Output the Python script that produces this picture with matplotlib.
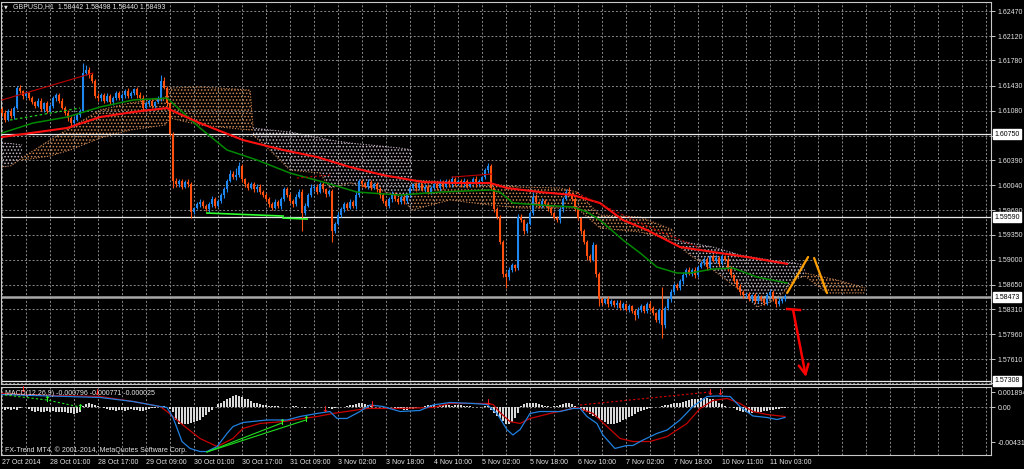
import numpy as np
import matplotlib
matplotlib.use('Agg')
import matplotlib.pyplot as plt
from matplotlib.transforms import blended_transform_factory

plt.rcParams['font.family'] = ['Liberation Sans', 'DejaVu Sans']
plt.rcParams['hatch.linewidth'] = 0.7

# ---------------- data ----------------
first_open = 1.6110
closes = [
    1.6105, 1.6095, 1.6108, 1.6100, 1.6112, 1.6140, 1.6135, 1.6128, 1.6132, 1.6125,
    1.6120, 1.6115, 1.6122, 1.6110, 1.6118, 1.6108, 1.6115, 1.6125, 1.6130, 1.6122,
    1.6112, 1.6105, 1.6098, 1.6090, 1.6095, 1.6102, 1.6108, 1.6160, 1.6165, 1.6158,
    1.6150, 1.6128, 1.6125, 1.6130, 1.6122, 1.6128, 1.6120, 1.6126, 1.6132, 1.6125,
    1.6130, 1.6135, 1.6128, 1.6133, 1.6138, 1.6130, 1.6125, 1.6112, 1.6118, 1.6122,
    1.6115, 1.6120, 1.6125, 1.6150, 1.6140, 1.6118, 1.6075, 1.6010, 1.6005, 1.6010,
    1.6002, 1.6008, 1.6005, 1.5966, 1.5972, 1.5978, 1.5980, 1.5975, 1.5970, 1.5978,
    1.5985, 1.5975, 1.5982, 1.5990, 1.5998, 1.6010, 1.6020, 1.6015, 1.6018, 1.6030,
    1.6012, 1.6005, 1.6000, 1.6006, 1.5998, 1.6002, 1.5995, 1.5990, 1.5985, 1.5978,
    1.5972, 1.5980, 1.5975, 1.5985, 1.5998, 1.5990, 1.5982, 1.5978, 1.5988, 1.5995,
    1.5965, 1.5975, 1.5990, 1.6000, 1.6002, 1.5995, 1.6005, 1.5998, 1.5992, 1.5996,
    1.5940, 1.5950, 1.5962, 1.5970, 1.5978, 1.5972, 1.5980, 1.5975, 1.5990, 1.6010,
    1.6005, 1.6002, 1.6008, 1.6000, 1.6005, 1.5998, 1.5990, 1.5982, 1.5975, 1.5985,
    1.5992, 1.5985, 1.5980, 1.5988, 1.5982, 1.5990, 1.6000, 1.6005, 1.6000, 1.6005,
    1.5998, 1.6002, 1.5995, 1.6000, 1.6006, 1.6000, 1.6008, 1.6002, 1.6010, 1.6005,
    1.6012, 1.6006, 1.6010, 1.6005, 1.6010, 1.6003, 1.6008, 1.6012, 1.6006, 1.6010,
    1.6015, 1.6025, 1.6030, 1.6000, 1.5970, 1.5960, 1.5925, 1.5880, 1.5875, 1.5885,
    1.5892, 1.5888, 1.5960, 1.5955, 1.5940, 1.5950, 1.5965, 1.5988, 1.5980, 1.5975,
    1.5982, 1.5978, 1.5972, 1.5965, 1.5958, 1.5955, 1.5970, 1.5985, 1.5995, 1.5992,
    1.5985, 1.5970, 1.5958, 1.5940, 1.5925, 1.5905, 1.5900, 1.5920, 1.5880, 1.5845,
    1.5840, 1.5845, 1.5838, 1.5842, 1.5836, 1.5840, 1.5833, 1.5838, 1.5830, 1.5835,
    1.5828, 1.5822, 1.5830, 1.5835, 1.5828, 1.5838, 1.5832, 1.5825, 1.5815, 1.5830,
    1.5808, 1.5832, 1.5845, 1.5855, 1.5865, 1.5860, 1.5870, 1.5878, 1.5885, 1.5880,
    1.5885, 1.5878, 1.5890, 1.5895, 1.5900, 1.5890, 1.5905, 1.5898, 1.5902, 1.5895,
    1.5905, 1.5900, 1.5888, 1.5878, 1.5870, 1.5862, 1.5855, 1.5850, 1.5852, 1.5845,
    1.5850, 1.5842, 1.5848, 1.5845, 1.5840, 1.5850, 1.5855, 1.5845, 1.5838, 1.5842,
    1.5845, 1.58493]

# wick lengths in pips (0.0001)
wick_up_pips = [
    3, 4, 2, 3, 2, 3, 4, 2, 3, 2,   3, 2, 4, 3, 2, 3, 2, 4, 3, 2,
    3, 2, 4, 3, 5, 3, 2, 15, 7, 4,  3, 2, 4, 3, 2, 4, 3, 2, 3, 4,
    2, 3, 4, 3, 2, 3, 4, 5, 3, 2,   3, 2, 4, 8, 5, 3, 2, 3, 4, 3,
    2, 3, 4, 3, 2, 3, 4, 3, 2, 3,   4, 3, 2, 3, 4, 3, 5, 3, 10, 6,
    3, 2, 4, 3, 2, 3, 4, 2, 3, 3,   2, 4, 3, 2, 3, 4, 3, 2, 3, 4,
    3, 4, 3, 5, 2, 3, 4, 3, 2, 3,   3, 2, 4, 3, 2, 3, 4, 3, 6, 3,
    2, 3, 4, 3, 2, 3, 4, 3, 2, 3,   4, 3, 2, 3, 4, 3, 3, 2, 4, 3,
    2, 3, 4, 3, 2, 3, 4, 3, 2, 3,   4, 3, 2, 3, 4, 3, 2, 3, 4, 3,
    2, 3, 5, 3, 2, 3, 2, 3, 2, 4,   3, 2, 4, 3, 2, 3, 3, 7, 3, 2,
    4, 3, 2, 3, 2, 3, 3, 2, 3, 6,   3, 2, 3, 2, 3, 2, 3, 4, 2, 3,
    3, 2, 4, 3, 2, 3, 4, 3, 2, 3,   2, 3, 4, 3, 2, 3, 4, 3, 2, 3,
    32, 3, 2, 4, 3, 2, 3, 4, 3, 5,  3, 4, 2, 3, 4, 3, 2, 3, 4, 3,
    3, 2, 4, 3, 2, 3, 4, 3, 2, 3,   2, 3, 4, 3, 2, 3, 4, 3, 2, 6,
    3, 2]
wick_dn_pips = [
    4, 3, 2, 3, 4, 2, 3, 4, 3, 2,   3, 4, 2, 3, 4, 3, 2, 3, 4, 3,
    2, 3, 4, 5, 3, 2, 3, 2, 3, 4,   3, 2, 3, 4, 3, 2, 3, 4, 3, 2,
    3, 4, 3, 2, 3, 4, 3, 3, 2, 3,   4, 3, 2, 3, 2, 3, 3, 10, 3, 4,
    3, 2, 3, 8, 3, 2, 4, 3, 2, 3,   4, 3, 2, 3, 4, 3, 2, 3, 4, 3,
    3, 4, 3, 2, 3, 4, 3, 2, 3, 4,   3, 2, 3, 4, 3, 2, 3, 4, 3, 2,
    25, 3, 2, 3, 4, 3, 2, 3, 4, 3,  15, 3, 2, 3, 4, 3, 2, 3, 4, 3,
    3, 2, 4, 3, 2, 3, 4, 3, 2, 3,   4, 3, 2, 3, 4, 3, 2, 3, 4, 3,
    2, 3, 4, 3, 2, 3, 4, 3, 2, 3,   4, 3, 2, 3, 4, 3, 2, 3, 4, 3,
    2, 3, 4, 3, 3, 4, 3, 4, 15, 3,  3, 4, 2, 3, 4, 3, 2, 3, 4, 3,
    3, 2, 4, 3, 2, 3, 4, 3, 2, 3,   3, 2, 3, 4, 3, 5, 3, 2, 4, 10,
    3, 2, 4, 3, 2, 3, 4, 3, 2, 3,   3, 7, 4, 3, 2, 3, 4, 3, 2, 3,
    18, 3, 2, 4, 3, 2, 3, 4, 3, 2,  3, 4, 3, 2, 3, 4, 3, 2, 3, 4,
    3, 2, 4, 3, 2, 3, 4, 3, 2, 3,   4, 3, 2, 3, 4, 3, 2, 3, 4, 3,
    2, 3]

# moving averages (bar index, price)
red_ma_x = [0, 21.7, 32.7, 43.7, 55, 57.7, 66, 80.3, 93.7, 105, 116, 127, 140.3, 151.7,
            162.7, 168.3, 179.3, 190.3, 199.3, 207, 215, 226, 237, 248.3, 261.7]
red_ma_y = [1.60711, 1.60837, 1.6099, 1.6106, 1.61116, 1.6106, 1.60906, 1.60669, 1.6053,
            1.60432, 1.60292, 1.6018, 1.60083, 1.60069, 1.60069, 1.59999, 1.59943, 1.59901,
            1.5979, 1.59552, 1.59413, 1.59175, 1.59106, 1.59036, 1.5894]
green_ma_x = [0, 10.3, 21.7, 32.7, 43.7, 55, 66, 75, 85, 96, 107, 118.3, 132.7, 146, 162.7,
              166, 170.3, 179.3, 190.3, 195, 199.3, 207, 212.7, 218.3, 225, 229.3, 237,
              243.7, 251.7, 261.7]
green_ma_y = [1.60767, 1.60906, 1.6099, 1.6113, 1.61228, 1.61255, 1.60837, 1.6053, 1.6039,
              1.60208, 1.60083, 1.59943, 1.59901, 1.59943, 1.59971, 1.59943, 1.5979, 1.59762,
              1.59734, 1.59664, 1.59552, 1.59273, 1.59092, 1.58896, 1.58812, 1.58812, 1.58868,
              1.58882, 1.58756, 1.58673]

# Ichimoku cloud segments (bar index, upper, lower)
cloud1_x = [0, 3, 6.7]
cloud1_top = [1.60627, 1.6062, 1.60599]
cloud1_bot = [1.60292, 1.6031, 1.60418]
cloud2_x = [6.7, 16, 22.7, 32.7, 42.7, 54.3, 56, 66, 82.7, 83.7]
cloud2_top = [1.60418, 1.60669, 1.60837, 1.61088, 1.61186, 1.61255, 1.61395, 1.61409, 1.61367, 1.60837]
cloud2_bot = [1.6039, 1.60446, 1.6053, 1.60697, 1.60809, 1.60878, 1.60976, 1.60878, 1.60809, 1.60809]
cloud3_x = [83.7, 89.3, 96, 106, 109.3, 116, 126, 132.7, 136.7]
cloud3_top = [1.60837, 1.60809, 1.60781, 1.60697, 1.60669, 1.60627, 1.60585, 1.60557, 1.6053]
cloud3_bot = [1.60739, 1.6053, 1.6025, 1.60208, 1.59999, 1.60069, 1.59971, 1.59873, 1.59692]
cloud4_x = [136.7, 149.3, 162.7, 172.7, 186, 191.7]
cloud4_top = [1.60111, 1.60083, 1.60055, 1.60013, 1.59999, 1.59943]
cloud4_bot = [1.59692, 1.59832, 1.59762, 1.5972, 1.5972, 1.5972]
cloud5_x = [191.7, 199.3, 212.7, 223.7]
cloud5_top = [1.59943, 1.59622, 1.59594, 1.59413]
cloud5_bot = [1.5972, 1.5944, 1.59385, 1.59273]
cloud6_x = [224.3, 229.3, 237, 246, 251.7, 256, 260.3, 263.7, 267.7]
cloud6_top = [1.59273, 1.59231, 1.59175, 1.59064, 1.59022, 1.58994, 1.58966, 1.58952, 1.58924]
cloud6_bot = [1.59231, 1.59064, 1.58854, 1.58575, 1.58338, 1.58408, 1.58533, 1.58715, 1.5877]
cloud7_x = [267.7, 275, 278.3, 287.7]
cloud7_top = [1.58812, 1.58745, 1.58715, 1.58603]
cloud7_bot = [1.5877, 1.58533, 1.58533, 1.58533]

# drawn objects on the price chart
darkred_line_x = [0, 30.3]
darkred_line_y = [1.61228, 1.61604]
red_box_line_x = [150, 163.3]
red_box_line_y = [1.60152, 1.60194]
red_dot_line_x = [191.7, 212.7, 232.7]
red_dot_line_y = [1.59929, 1.5951, 1.59161]
red_dot_line2_x = [98.3, 109.3]
red_dot_line2_y = [1.60138, 1.6018]
green_dot_line_x = [2.7, 26]
green_dot_line_y = [1.60948, 1.61116]
lime_line1_x = [68.3, 93.7]
lime_line1_y = [1.5965, 1.59608]
lime_line2_x = [93.7, 101.7]
lime_line2_y = [1.5958, 1.59566]
orange_zz_x = [261.7, 268.7]
orange_zz_y = [1.58533, 1.59036]
orange_zz2_x = [270.7, 275]
orange_zz2_y = [1.59022, 1.58533]
red_bar_x = [261.7, 266]
red_bar_y = [1.58310, 1.58296]
red_arrow_start = (263.7, 1.58296)
red_arrow_end = (268.0, 1.5736)

price_ticks = [1.62470, 1.62120, 1.61780, 1.61430, 1.61080, 1.60730, 1.60390, 1.60040,
               1.59690, 1.59350, 1.59000, 1.58650, 1.58310, 1.57960, 1.57610, 1.57270]
hidden_price_labels = [1.60730]
hlines_white = [1.60750, 1.59590, 1.57308]
bid_price = 1.58473
time_labels = ['27 Oct 2014', '28 Oct 01:00', '28 Oct 17:00', '29 Oct 09:00', '30 Oct 01:00',
               '30 Oct 17:00', '31 Oct 09:00', '3 Nov 02:00', '3 Nov 18:00', '4 Nov 10:00',
               '5 Nov 02:00', '5 Nov 18:00', '6 Nov 10:00', '7 Nov 02:00', '7 Nov 18:00',
               '10 Nov 11:00', '11 Nov 03:00']
time_label_bars = [0, 16, 32, 48, 64, 80, 96, 112, 128, 144, 160, 176, 192, 208, 224, 240, 256]

# MACD histogram (units of 0.001)
macd_hist_e3 = [
    -0.2, -0.3, -0.2, -0.3, -0.2, -0.3, -0.1, 0.1, 0.0, -0.2,
    -0.4, -0.5, -0.4, -0.5, -0.5, -0.4, -0.5, -0.4, -0.5, -0.6, -0.5, -0.6, -0.7,
    -0.7, -0.8, -0.7, -0.5,
    0.2, 0.4, 0.5, 0.4, 0.3, 0.2, 0.1,
    -0.1, -0.2, -0.3, -0.3, -0.4, -0.3, -0.3, -0.4, -0.3, -0.2, -0.3, -0.3, -0.4, -0.4, -0.3,
    -0.2, -0.1, -0.1, 0.0,
    0.1, 0.2, 0.1, -0.2,
    -0.6, -1.6, -2.1, -2.1, -2.1, -2.0, -1.9, -1.8, -1.7, -1.5, -1.2, -0.9, -0.6, -0.3,
    0.1, 0.4, 0.6, 0.8, 1.0, 1.2, 1.4, 1.5, 1.4, 1.3, 1.1, 1.0, 0.8, 0.6, 0.5, 0.4, 0.3,
    0.3, 0.2, 0.2, 0.2, 0.2, 0.1, 0.1, 0.1, 0.1,
    0.2, 0.2, 0.1, 0.0, -0.1, 0.0, 0.1, 0.1, 0.0, 0.0, 0.1, 0.0, -0.1, -0.2,
    -0.1, 0.0, 0.1, 0.1,
    0.2, 0.3, 0.3, 0.4, 0.5, 0.5, 0.4, 0.3,
    0.2, 0.1, 0.1, 0.0, 0.1, 0.0, 0.1, 0.0, -0.1, -0.1,
    -0.2, -0.3, -0.3, -0.2, -0.2, -0.1, 0.0,
    0.1, 0.2, 0.3, 0.3, 0.3, 0.2, 0.3, 0.3, 0.3, 0.3, 0.2, 0.3, 0.3, 0.3, 0.2, 0.2,
    0.2, 0.1, 0.1, 0.1, 0.1, 0.2, 0.2,
    -0.3, -0.7, -1.0, -1.3, -1.7, -2.0, -2.0, -1.8, -1.3, -0.7,
    0.2, 0.4, 0.5, 0.6, 0.6, 0.5, 0.4,
    0.3, 0.2, 0.2, 0.1, 0.2, 0.2,
    0.3, 0.4, 0.5, 0.5, 0.4, 0.2,
    0.0, -0.2, -0.4,
    -0.6, -0.8, -1.0, -1.2, -1.4,
    -1.6, -1.8, -2.0, -2.0, -2.0, -1.9, -1.8,
    -1.6, -1.4, -1.2, -1.0, -0.8, -0.6,
    -0.4, -0.3, -0.2, -0.1, 0.0,
    0.1, 0.1, 0.2, 0.3, 0.3, 0.4, 0.5, 0.5, 0.6, 0.7, 0.8, 0.9,
    1.0, 1.1, 1.1, 1.2, 1.2, 1.2, 1.1, 1.0,
    0.8, 0.6, 0.4, 0.2,
    0.1, 0.0, -0.1,
    -0.3, -0.4, -0.5, -0.6, -0.7, -0.7, -0.6, -0.6,
    -0.5, -0.4, -0.4, -0.3, -0.3, -0.2, -0.2, -0.1, -0.1]

macd_blue_x = [0, 10.3, 32.7, 43.7, 52.7, 55, 57, 60, 62.7, 66, 68.3, 71.7, 75, 77, 80.3, 88.3,
               95, 99.3, 105, 109.3, 111.7, 115, 119.3, 122.7, 127, 132.7, 139.3, 143.7, 149.3,
               157, 161.7, 165, 168.3, 170.3, 172.7, 176, 179.3, 186, 190.3, 192.7, 195, 198.3,
               200.3, 204.3, 208.3, 210.3, 213.7, 218.3, 221.7, 226, 230.3, 235, 238.3, 242.7,
               246, 250.3, 255, 258.3, 261]
macd_blue_e3 = [1.61, 1.49, 1.24, 0.74, 0.12, 0.0, -1.24, -4.22, -5.08, -5.46, -5.46, -4.84,
                -3.22, -2.36, -1.86, -1.55, -1.55, -1.12, -0.74, -0.5, -1.36, -1.36, -0.5, 0.31,
                0.12, -0.5, -0.37, 0.31, 0.62, 0.5, 0.37, -0.74, -2.73, -3.41, -2.73, -0.74,
                -0.5, -0.5, -0.12, -0.12, -1.12, -1.98, -3.41, -5.08, -4.71, -4.71, -4.03,
                -3.22, -2.79, -1.55, 0.12, 1.36, 1.43, 1.36, 0.12, -1.05, -1.24, -1.49, -1.24]
macd_red_x = [0, 16, 32.7, 43.7, 52.7, 55, 60.3, 66, 71.7, 77, 80.3, 86, 93.7, 105, 110.3,
              121.7, 132.7, 143.7, 149.3, 161.7, 163.7, 166, 169.3, 172.7, 176, 182.7, 191.7,
              197, 201.7, 206, 210.3, 216, 221.7, 228.3, 232.7, 237, 241.7, 246, 250.3, 255, 261]
macd_red_e3 = [1.74, 1.49, 1.36, 0.74, 0.12, -0.5, -2.17, -3.84, -4.84, -3.84, -2.6, -1.98,
               -1.74, -1.12, -0.74, -0.12, -0.12, 0.0, 0.5, 0.5, 0.37, -0.62, -1.74, -1.98,
               -1.36, -0.74, 0.0, -0.74, -2.36, -3.84, -4.22, -4.22, -3.6, -1.98, -0.12, 0.87,
               1.12, 0.5, -0.5, -0.87, -1.12]
macd_red_arrows_x = [7, 31.7, 107.7, 123.3, 162, 236, 239.3]
macd_red_arrows_e3 = [2.17, 1.92, -0.31, 0.43, 0.68, 1.8, 1.8]
macd_green_arrows_x = [15, 26, 93.3, 101.3]
macd_green_arrows_e3 = [0.93, 0.06, -1.92, -1.55]
macd_green_line1_x = [68.3, 93.3]
macd_green_line1_e3 = [-5.52, -1.92]
macd_green_line2_x = [68.3, 101.3]
macd_green_line2_e3 = [-5.52, -1.55]
macd_green_dash_x = [1, 15, 26]
macd_green_dash_e3 = [1.55, 0.93, 0.06]
macd_red_dot_x = [192.7, 236]
macd_red_dot_e3 = [0.31, 1.92]

# ---------------- style ----------------
BG = 'black'
FG = '#E6E6E6'
GRID = '#8A8A8A'
BULL = '#1E88F0'
BEAR = '#FF5010'
SANDY = '#D08A55'
THISTLE = '#C8B8C8'
FS = 5.0

W, H = 1024, 469
fig = plt.figure(figsize=(W / 100, H / 100), dpi=100, facecolor=BG)
ax = fig.add_axes([1 / W, 1 - 384 / H, 990 / W, 382 / H], facecolor=BG)
ax2 = fig.add_axes([1 / W, 1 - 455 / H, 990 / W, 68 / H], facecolor=BG)

XMIN, XMAX = -1 / 3, (991 - 2) / 3
for a in (ax, ax2):
    a.set_xlim(XMIN, XMAX)
    for s in a.spines.values():
        s.set_color('#C8C8C8')
        s.set_linewidth(0.8)
    a.set_xticks(np.arange(0, 330, 8))
    a.tick_params(axis='x', length=0, labelbottom=False)
    a.grid(True, axis='x', color=GRID, linestyle=(0, (2, 2)), linewidth=0.7)
    a.set_axisbelow(True)

ax.set_ylim(1.57263, 1.62596)
ax.yaxis.tick_right()
ax.set_yticks(price_ticks)
ax.set_yticklabels(['' if v in hidden_price_labels else f'{v:.5f}' for v in price_ticks])
ax.tick_params(axis='y', colors=FG, labelsize=FS, length=3, width=0.6, pad=1.5)
ax.grid(True, axis='y', color=GRID, linestyle=(0, (2, 2)), linewidth=0.7)

# cloud
clouds = [(cloud1_x, cloud1_top, cloud1_bot, THISTLE),
          (cloud2_x, cloud2_top, cloud2_bot, SANDY),
          (cloud3_x, cloud3_top, cloud3_bot, THISTLE),
          (cloud4_x, cloud4_top, cloud4_bot, SANDY),
          (cloud5_x, cloud5_top, cloud5_bot, SANDY),
          (cloud6_x, cloud6_top, cloud6_bot, THISTLE),
          (cloud7_x, cloud7_top, cloud7_bot, SANDY)]
for cx, ct, cb, cc in clouds:
    ax.fill_between(cx, cb, ct, facecolor='none', edgecolor=cc, hatch='.....', linewidth=0, zorder=1)
    ax.plot(cx, ct, color=cc, linestyle=(0, (1, 1.5)), linewidth=0.8, zorder=1)
    ax.plot(cx, cb, color=SANDY, linestyle=(0, (1, 1.5)), linewidth=0.8, zorder=1)

# horizontal lines
for v in hlines_white:
    ax.axhline(v, color='#E8E8E8', linewidth=0.9, zorder=2)
ax.axhline(bid_price, color='#A8A8A8', linewidth=1.8, zorder=2)

# candles
n = min(len(closes), len(wick_up_pips), len(wick_dn_pips))
c = np.array(closes[:n])
o = np.concatenate([[first_open], c[:-1]])
hi = np.maximum(o, c) + np.array(wick_up_pips[:n]) * 1e-4
lo = np.minimum(o, c) - np.array(wick_dn_pips[:n]) * 1e-4
xb = np.arange(n)
cols = np.where(c >= o, BULL, BEAR)
ax.vlines(xb, lo, hi, colors=cols, linewidth=0.8, zorder=3)
ax.bar(xb, np.maximum(np.abs(c - o), 0.00006), bottom=np.minimum(o, c), width=0.66,
       color=cols, linewidth=0, zorder=3)

# indicator lines
ax.plot(green_ma_x, green_ma_y, color='#008A00', linewidth=1.1, zorder=4)
ax.plot(red_ma_x, red_ma_y, color='#FF1010', linewidth=1.5, zorder=4)
ax.plot(darkred_line_x, darkred_line_y, color='#C00000', linewidth=0.8, zorder=4)
ax.plot(red_box_line_x, red_box_line_y, color='#C00000', linewidth=0.8, zorder=4)
ax.plot(red_dot_line_x, red_dot_line_y, color='#C00000', linewidth=0.8, linestyle=(0, (2, 2)), zorder=4)
ax.plot(red_dot_line2_x, red_dot_line2_y, color='#C00000', linewidth=0.8, linestyle=(0, (2, 2)), zorder=4)
ax.plot(green_dot_line_x, green_dot_line_y, color='#20D020', linewidth=0.9, linestyle=(0, (2, 2)), zorder=4)
ax.plot(lime_line1_x, lime_line1_y, color='#30FF30', linewidth=1.2, zorder=4)
ax.plot(lime_line2_x, lime_line2_y, color='#30FF30', linewidth=1.2, zorder=4)
ax.plot(orange_zz_x, orange_zz_y, color='#FFA000', linewidth=1.6, zorder=5, solid_capstyle='round')
ax.plot(orange_zz2_x, orange_zz2_y, color='#FFA000', linewidth=1.6, zorder=5, solid_capstyle='round')
ax.plot(red_bar_x, red_bar_y, color='#FF0000', linewidth=1.8, zorder=5)
ax.annotate('', xy=red_arrow_end, xytext=red_arrow_start,
            arrowprops=dict(arrowstyle='->,head_length=0.7,head_width=0.35', color='#FF0000',
                            linewidth=1.8, shrinkA=0, shrinkB=0), zorder=5)

# price boxes at the right
tr = blended_transform_factory(ax.transAxes, ax.transData)
for v in hlines_white + [bid_price]:
    ax.text(1.0 + 3 / 990, v, f'{v:.5f}', transform=tr, ha='left', va='center', fontsize=FS,
            color='black', zorder=10, clip_on=False,
            bbox=dict(boxstyle='square,pad=0.2', fc='white', ec='white'))

# title
fig.text(4 / W, 1 - 7 / H, '\u25BC', fontsize=3.5, color=FG, va='center', ha='left',
         family=['DejaVu Sans'])
fig.text(13 / W, 1 - 7 / H, 'GBPUSD,H1  1.58442 1.58498 1.58440 1.58493', fontsize=FS,
         color=FG, va='center', ha='left')

# ---------------- MACD ----------------
ax2.set_ylim(-5.89e-3, 2.54e-3)
ax2.yaxis.tick_right()
ax2.set_yticks([1.894e-3, 0.0, -4.318e-3])
ax2.set_yticklabels(['0.001894', '0.00', '-0.004318'])
ax2.tick_params(axis='y', colors=FG, labelsize=FS, length=3, width=0.6, pad=1.5)
ax2.axhline(0, color=GRID, linestyle=(0, (2, 2)), linewidth=0.7, zorder=0)
ax2.set_xticks(time_label_bars, minor=True)
ax2.tick_params(axis='x', which='minor', length=3, width=0.6, colors=FG, direction='out',
                labelbottom=False)

hist = np.array(macd_hist_e3) * 1e-3
ax2.bar(np.arange(len(hist)), hist, width=0.62, color='#D8D8D8', linewidth=0, zorder=2)
ax2.plot(macd_red_x, np.array(macd_red_e3) * 1e-3, color='#C80000', linewidth=0.9, zorder=3)
ax2.plot(macd_blue_x, np.array(macd_blue_e3) * 1e-3, color='#2080E0', linewidth=0.9, zorder=3)
ax2.plot(macd_green_line1_x, np.array(macd_green_line1_e3) * 1e-3, color='#20E020', linewidth=0.8, zorder=3)
ax2.plot(macd_green_line2_x, np.array(macd_green_line2_e3) * 1e-3, color='#20E020', linewidth=0.8, zorder=3)
ax2.plot(macd_green_dash_x, np.array(macd_green_dash_e3) * 1e-3, color='#20E020', linewidth=0.8,
         linestyle=(0, (2, 2)), zorder=3)
ax2.plot(macd_red_dot_x, np.array(macd_red_dot_e3) * 1e-3, color='#E00000', linewidth=0.8,
         linestyle=(0, (2, 2)), zorder=3)
for xa, ya in zip(macd_red_arrows_x, macd_red_arrows_e3):
    ax2.text(xa, ya * 1e-3, '\u2193', color='#FF2020', fontsize=6, fontweight='bold',
             ha='center', va='center', zorder=5, family=['DejaVu Sans'])
for xa, ya in zip(macd_green_arrows_x, macd_green_arrows_e3):
    ax2.text(xa, ya * 1e-3, '\u2191', color='#30FF30', fontsize=6, fontweight='bold',
             ha='center', va='center', zorder=5, family=['DejaVu Sans'])

ax2.text(4 / 990, 1 - 6 / 68, 'MACD(12,26,9) -0.000796 -0.000771 -0.000025', transform=ax2.transAxes,
         fontsize=FS, color=FG, ha='left', va='center', zorder=6)
ax2.text(4 / 990, 1 - 63 / 68, 'FX-Trend MT4, \u00a9 2001-2014, MetaQuotes Software Corp.',
         transform=ax2.transAxes, fontsize=FS, color=FG, ha='left', va='center', zorder=6)

trx = blended_transform_factory(ax2.transData, ax2.transAxes)
for b, lab in zip(time_label_bars, time_labels):
    ax2.text(b, -7 / 68, lab, transform=trx, fontsize=FS, color=FG, ha='left', va='center',
             clip_on=False)

fig.savefig('out.png', dpi=100, facecolor=BG)
